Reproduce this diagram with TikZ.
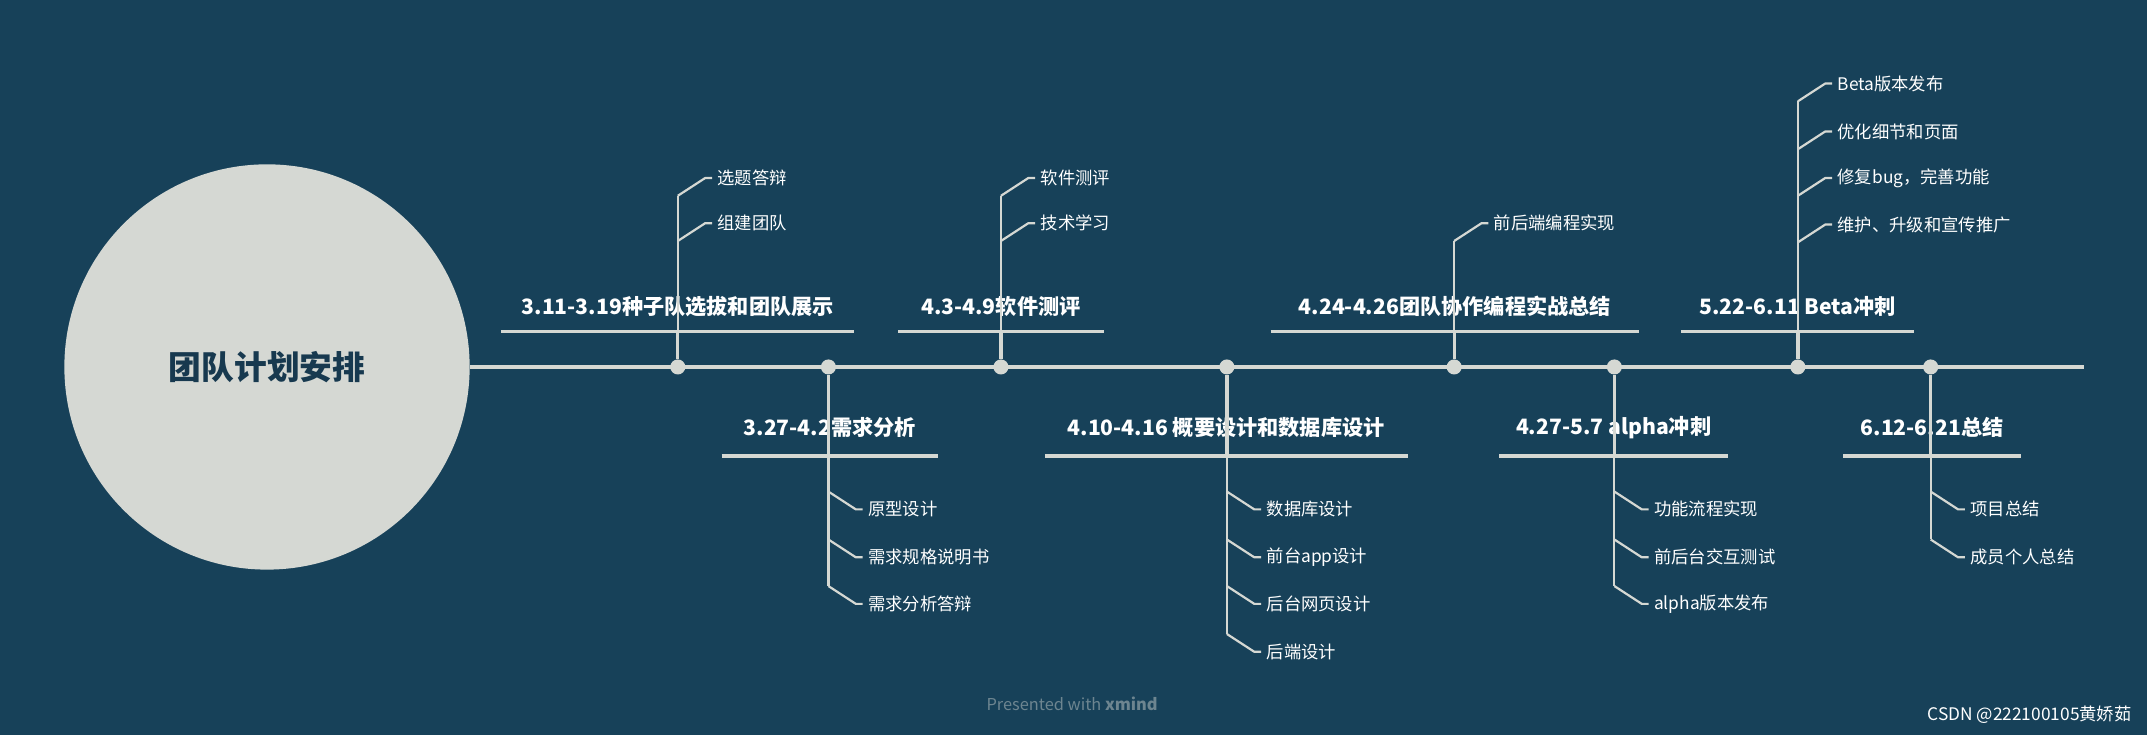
\documentclass[tikz,border=0pt]{standalone}
\usepackage{fontspec}
\setmainfont{Noto Sans CJK SC}
\definecolor{bg}{HTML}{174159}
\definecolor{ln}{HTML}{D5D8D3}
\definecolor{dk}{HTML}{17394F}
\begin{document}
\begin{tikzpicture}[x=1mm,y=-1mm,
  lnk/.style={draw=ln,line width=2.4mm},
  sub/.style={draw=ln,line width=1.6mm},
  main/.style={text=white,font=\fontsize{44}{50}\selectfont\bfseries,inner sep=0},
  leaf/.style={text=white,font=\fontsize{36}{42}\selectfont,anchor=west,inner sep=0},
  dot/.style={circle,fill=ln,minimum size=11mm,inner sep=0}]
\fill[bg] (0,0) rectangle (1568,537);
\useasboundingbox (0,0) rectangle (1568,537);
\node[circle,fill=ln,minimum size=296mm,inner sep=0] (c) at (195,268) {};
\node[text=dk,font=\fontsize{68}{76}\selectfont\bfseries] (ct) at (195,268) {团队计划安排};
\coordinate (e) at (1522,268);
\draw[lnk] (c.east) -- (e);
% top branches: x, underline left, right, label, name
\foreach \x/\a/\b/\t/\n in {495/366/624/{3.11-3.19种子队选拔和团队展示}/t1,731/656/806/{4.3-4.9软件测评}/t2,1062/928/1197/{4.24-4.26团队协作编程实战总结}/t3,1313/1228/1398/{5.22-6.11 Beta冲刺}/t4}{
  \node[main] (\n) at ({(\a+\b)/2},224) {\t};
  \coordinate (\n l) at (\a,242); \coordinate (\n r) at (\b,242);
  \coordinate (\n u) at (\x,242);
  \node[dot] (\n d) at (\x,268) {};
  \draw[lnk] (\n l) -- (\n r);
  \draw[lnk] (\n u) -- (\n d);
}
\foreach \x/\a/\b/\t/\n in {605/527/685/{3.27-4.2需求分析}/b1,896/763/1028/{4.10-4.16 概要设计和数据库设计}/b2,1179/1095/1262/{4.27-5.7 alpha冲刺}/b3,1410/1346/1476/{6.12-6.21总结}/b4}{
  \node[main] (\n) at ({(\a+\b)/2},312) {\t};
  \coordinate (\n l) at (\a,333); \coordinate (\n r) at (\b,333);
  \coordinate (\n u) at (\x,333);
  \node[dot] (\n d) at (\x,268) {};
  \draw[lnk] (\n l) -- (\n r);
  \draw[lnk] (\n u) -- (\n d);
}
% top leaves
\foreach \x/\top/\list in {495/130/{130/选题答辩,163/组建团队},731/130/{130/软件测评,163/技术学习},1062/163/{163/前后端编程实现},1313/61/{61/Beta版本发布,96/优化细节和页面,130/修复bug，完善功能,164/维护、升级和宣传推广}}{
  \coordinate (tv) at (\x,{\top+13});
  \coordinate (tb) at (\x,242);
  \draw[sub] (tb) -- (tv);
  \foreach \y/\s in \list {
    \coordinate (p) at (\x,{\y+13}); \coordinate (q) at ({\x+20},\y);
    \draw[sub,line join=round] (p) -- (q) -- ++(5,0);
    \node[leaf] (lf) at ({\x+29},\y) {\s};
  }
}
% bottom leaves
\foreach \x/\bot/\list in {605/441/{372/原型设计,407/需求规格说明书,441/需求分析答辩},896/476/{372/数据库设计,407/前台app设计,441/后台网页设计,476/后端设计},1179/441/{372/功能流程实现,407/前后台交互测试,441/alpha版本发布},1410/407/{372/项目总结,407/成员个人总结}}{
  \coordinate (bv) at (\x,{\bot-13});
  \coordinate (bb) at (\x,333);
  \draw[sub] (bb) -- (bv);
  \foreach \y/\s in \list {
    \coordinate (p) at (\x,{\y-13}); \coordinate (q) at ({\x+20},\y);
    \draw[sub,line join=round] (p) -- (q) -- ++(5,0);
    \node[leaf] (lf) at ({\x+29},\y) {\s};
  }
}
\node[text=ln!45!bg,font=\fontsize{34}{40}\selectfont] (ft) at (783,514) {Presented with \textbf{xmind}};
\node[text=white,font=\fontsize{36}{42}\selectfont,anchor=east] (cs) at (1558,522) {CSDN @222100105黄娇茹};
\end{tikzpicture}
\end{document}
